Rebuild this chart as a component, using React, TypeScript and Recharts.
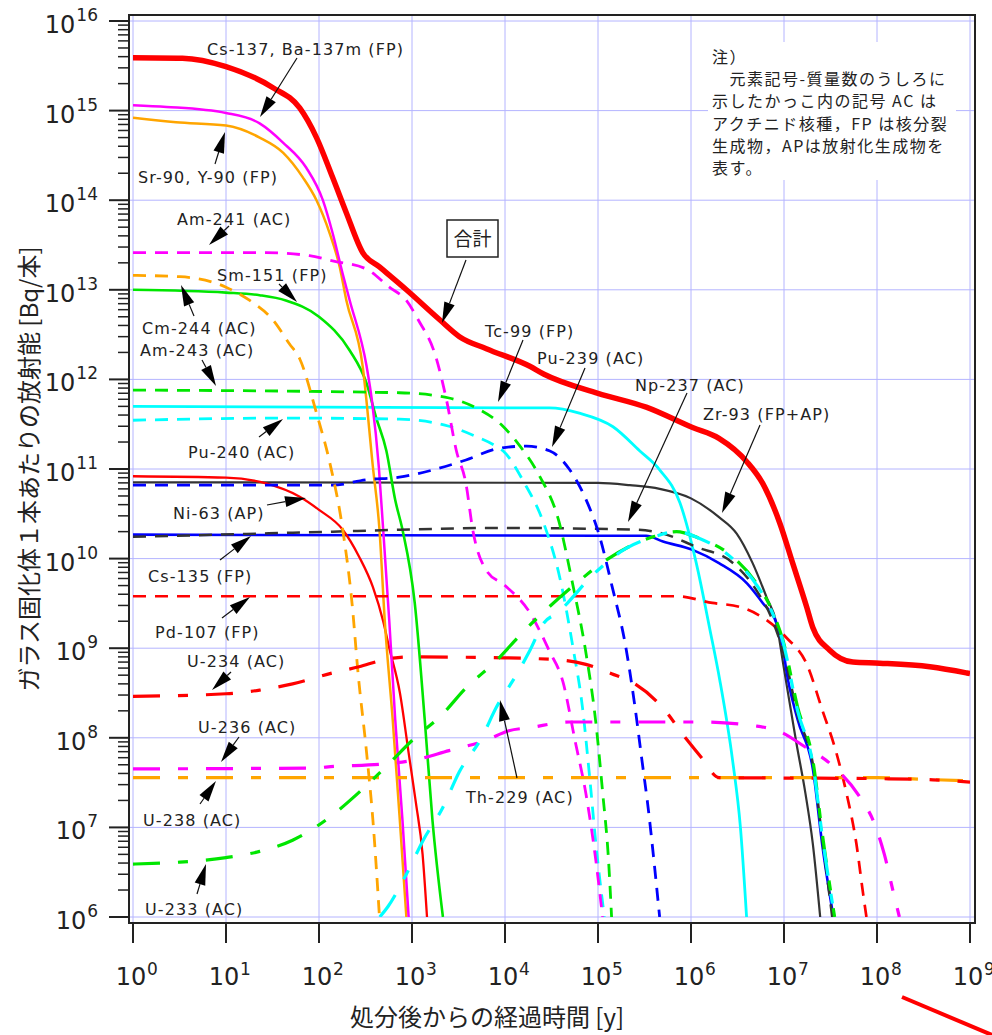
import { LineChart, Line, XAxis, YAxis, CartesianGrid } from "recharts";

type Pt = [number, number];

// [years after disposal, activity Bq per canister]
const total: Pt[] = [
  [1, 3.9e15], [3.4, 3.85e15], [10, 3.1e15], [32, 1.8e15], [62, 1.07e15], [94, 5e14],
  [140, 1.8e14], [197, 7.2e13], [295, 2.6e13], [447, 1.8e13], [870, 1e13], [2000, 4.6e12],
  [3240, 3e12], [6300, 2.2e12], [18500, 1.4e12], [26000, 1.15e12], [1e5, 7e11],
  [3.3e5, 4.9e11], [1.04e6, 2.9e11], [2e6, 2.2e11], [4e6, 1.2e11], [5.9e6, 6.9e10],
  [9e6, 2.5e10], [1.24e7, 8.9e9], [1.75e7, 2.9e9], [2.04e7, 1.7e9], [3.1e7, 9.5e8],
  [5.5e7, 7e8], [1.07e8, 6.8e8], [3.7e8, 6.2e8], [9.1e8, 5.3e8], [1e9, 5.2e8],
];
const cs137: Pt[] = [
  [1, 1.15e15], [2.3, 1.1e15], [10, 9.4e14], [23, 7.2e14], [41, 4.4e14], [73, 2.3e14],
  [110, 1e14], [140, 4.3e13], [180, 1.5e13], [214, 7.6e12], [325, 1.4e12], [370, 5.9e11],
  [440, 1.05e11], [490, 2.1e10], [570, 2e9], [660, 1.6e8], [790, 1.2e7], [920, 1e6],
];
const sr90: Pt[] = [
  [1, 8.3e14], [2.9, 7.4e14], [10, 6.8e14], [23, 5e14], [41, 3.4e14], [67, 1.8e14],
  [94, 1e14], [130, 4.3e13], [167, 1.8e13], [197, 7.6e12], [295, 1.4e12], [380, 1.05e11],
  [447, 2.1e10], [510, 2e9], [620, 1.6e8], [740, 1.2e7], [870, 1e6],
];
const am241: Pt[] = [
  [1, 2.6e13], [27, 2.6e13], [79, 2.4e13], [140, 2.1e13], [325, 1.7e13], [570, 1.07e13],
  [870, 7.6e12], [1170, 4.6e12], [1800, 1.8e12], [2350, 5.9e11], [3000, 1.6e11],
  [3800, 6.9e10], [4500, 2.1e10], [6300, 7.4e9], [10000, 5e9], [18000, 2.6e9],
  [30000, 9.3e8], [42000, 4.2e8], [57000, 9e7], [74000, 2.4e7], [95000, 4.2e6], [1.12e5, 1e6],
];
const cm244: Pt[] = [
  [1, 1.45e13], [3.2, 1.4e13], [10, 1.07e13], [18, 7.6e12], [32, 4.6e12], [48, 2.5e12],
  [62, 1.7e12], [94, 4.2e11], [130, 1.2e11], [180, 2.1e10], [230, 2.7e9], [260, 6e8],
  [325, 6.8e7], [380, 1.2e7], [447, 1e6],
];
const sm151: Pt[] = [
  [1, 1e13], [10, 9.3e12], [23, 8.7e12], [44, 7.6e12], [100, 5e12], [214, 2.1e12],
  [325, 9e11], [410, 3.8e11], [530, 1.6e11], [660, 4.5e10], [790, 2.1e10], [1070, 3.2e9],
  [1370, 1.6e8], [1660, 1.2e7], [2150, 1e6],
];
const am243: Pt[] = [
  [1, 7.6e11], [730, 7.1e11], [2500, 6.2e11], [4900, 4.8e11], [9500, 3e11], [14500, 1.8e11],
  [23000, 8.7e10], [38000, 2.6e10], [53000, 5.4e9], [74000, 9e8], [95000, 1.45e8],
  [1.12e5, 2.5e7], [1.3e5, 4.2e6], [1.4e5, 1e6],
];
const tc99: Pt[] = [
  [1, 5e11], [30000, 4.8e11], [63000, 4.2e11], [1.45e5, 2.96e11], [2.8e5, 1.6e11],
  [4.6e5, 9.8e10], [7.6e5, 4.2e10], [1.14e6, 8.9e9], [1.6e6, 1.6e9], [2.04e6, 4.4e8],
  [2.8e6, 5.6e7], [3.4e6, 1e7], [3.96e6, 1e6],
];
const pu240: Pt[] = [
  [1, 3.5e11], [41, 3.7e11], [730, 3.6e11], [2500, 3e11], [4900, 2.3e11], [8000, 1.8e11],
  [9500, 1.6e11], [16000, 7.1e10], [26000, 2.5e10], [39000, 6e9], [54000, 1e9],
  [68000, 2.2e8], [81000, 3.8e7], [95000, 6.5e6], [1.17e5, 1e6],
];
const pu239: Pt[] = [
  [1, 6.6e10], [140, 6.6e10], [325, 7.6e10], [730, 8.1e10], [1700, 9.8e10], [3800, 1.26e11],
  [8600, 1.7e11], [17000, 1.8e11], [30000, 1.6e11], [49000, 1e11], [74000, 4.6e10],
  [1.02e5, 1.9e10], [1.41e5, 5e9], [2e5, 1e9], [2.5e5, 2.2e8], [2.95e5, 5.9e7],
  [3.5e5, 1.5e7], [4e5, 4.2e6], [4.6e5, 1e6],
];
const ni63: Pt[] = [
  [1, 8.3e10], [10, 8e10], [27, 6.9e10], [62, 4.9e10], [100, 3.5e10], [180, 2.1e10],
  [270, 1.05e10], [380, 4.8e9], [490, 2e9], [570, 1e9], [740, 3.2e8], [920, 6.8e7],
  [1100, 1.9e7], [1300, 5e6], [1450, 1e6],
];
const zr93: Pt[] = [
  [1, 7.1e10], [1e5, 7e10], [2.2e5, 6.6e10], [4.6e5, 6e10], [1e6, 4.7e10], [2e6, 2.9e10],
  [3.1e6, 1.9e10], [4.6e6, 8.9e9], [6.5e6, 3.7e9], [8.3e6, 1.9e9], [9.8e6, 6.7e8],
  [1.36e7, 8.7e7], [1.7e7, 2.4e7], [2.04e7, 6.6e6], [2.45e7, 1e6],
];
const np237: Pt[] = [
  [1, 1.75e10], [140, 2e10], [730, 2.1e10], [8600, 2.2e10], [2.6e5, 2.1e10], [5e5, 1.9e10],
  [1.14e6, 1.35e10], [2.8e6, 9e9], [5e6, 4.5e9], [7.6e6, 2e9], [1.05e7, 7e8],
  [1.4e7, 1.8e8], [2.05e7, 5e7], [2.6e7, 7e6], [3.3e7, 1e6],
];
const cs135: Pt[] = [
  [1, 1.85e10], [1e5, 1.8e10], [3.3e5, 1.8e10], [5e5, 1.55e10], [1.04e6, 1.25e10],
  [2e6, 8.9e9], [4e6, 5.3e9], [5.9e6, 3.2e9], [8.3e6, 1.9e9], [9.8e6, 1e9], [1.05e7, 6e8],
  [1.4e7, 1.6e8], [2.05e7, 4.4e7], [2.6e7, 6e6], [3.4e7, 1e6],
];
const pd107: Pt[] = [
  [1, 3.8e9], [7e5, 3.8e9], [1.7e6, 3.2e9], [3.3e6, 2.9e9], [5.9e6, 2.2e9], [1.07e7, 1.3e9],
  [1.75e7, 6.7e8], [2.6e7, 2e8], [3.6e7, 7.2e7], [4.7e7, 2.4e7], [6e7, 6.6e6],
  [7.1e7, 1.8e6], [7.7e7, 1e6],
];
const u234: Pt[] = [
  [1, 2.9e8], [10, 3.1e8], [23, 3.4e8], [52, 4e8], [140, 5.3e8], [270, 6.2e8], [490, 7.4e8],
  [920, 8e8], [10000, 7.8e8], [39000, 7.4e8], [74000, 6.6e8], [1.4e5, 5.2e8],
  [2.3e5, 4.2e8], [4.9e5, 2.2e8], [8.7e5, 1e8], [1.3e6, 6e7], [2e6, 3.6e7], [1e8, 3.5e7],
  [4e8, 3.4e7], [1e9, 3.2e7],
];
const u236: Pt[] = [
  [1, 4.5e7], [79, 4.6e7], [150, 4.8e7], [490, 5.1e7], [1030, 5.6e7], [2500, 7.2e7],
  [6300, 9.4e7], [11000, 1.2e8], [18500, 1.3e8], [50000, 1.5e8], [1.2e6, 1.5e8],
  [5.1e6, 1.35e8], [9.4e6, 1.15e8], [1.66e7, 8e7], [3.1e7, 5.2e7], [6.5e7, 2.2e7],
  [9.4e7, 1.1e7], [1.2e8, 5e6], [1.48e8, 2e6], [1.74e8, 1e6],
];
const u238: Pt[] = [[1, 3.6e7], [1e8, 3.6e7], [3e8, 3.45e7], [1e9, 3.3e7]];
const u233: Pt[] = [
  [1, 3.9e6], [3.2, 4.1e6], [10, 4.6e6], [23, 5.4e6], [52, 7.2e6], [124, 1.25e7],
  [262, 2.4e7], [518, 4.7e7], [1020, 9.5e7], [2090, 1.8e8], [3800, 3.6e8], [7900, 7.1e8],
  [15000, 1.45e9], [61000, 5.5e9], [1.2e5, 9.5e9], [3.9e5, 1.75e10], [7e5, 2e10],
  [1.2e6, 1.7e10], [2.8e6, 1.05e10], [5e6, 5.4e9], [7.6e6, 2.5e9], [9.8e6, 1.2e9],
  [1.4e7, 2.2e8], [2.05e7, 5.5e7], [2.6e7, 8e6], [3.5e7, 1e6],
];
const th229: Pt[] = [
  [450, 1e6], [550, 1.3e6], [870, 3e6], [1320, 7.2e6], [2140, 1.66e7], [3240, 4.2e7],
  [5600, 1e8], [8100, 2.2e8], [13500, 5.2e8], [18200, 9.1e8], [26000, 1.9e9],
  [37000, 2.5e9], [91000, 6.8e9], [2e5, 1.3e10], [4e5, 1.75e10], [7e5, 2e10],
  [1.2e6, 1.7e10], [2.8e6, 1e10], [5e6, 5.2e9], [7.6e6, 2.4e9], [9.8e6, 1.15e9],
  [1.4e7, 2e8], [2.05e7, 5e7], [2.6e7, 7.5e6], [3.5e7, 1e6],
];

const xTicks = [1, 1e1, 1e2, 1e3, 1e4, 1e5, 1e6, 1e7, 1e8, 1e9];
const yTicks = [1e6, 1e7, 1e8, 1e9, 1e10, 1e11, 1e12, 1e13, 1e14, 1e15, 1e16];
const yMinorTicks = yTicks.slice(0, -1).flatMap((d) => [2, 3, 4, 5, 6, 7, 8, 9].map((k) => k * d));

const RED = "#ff0000";
const MAGENTA = "#ff00ff";
const ORANGE = "#ffa500";
const GREEN = "#00e600";
const CYAN = "#00ffff";
const BLUE = "#0000ff";
const DARK = "#333333";

const SHORT = "13 9";
const LONG = "27 18 10 18";

const series = [
  { id: "Zr-93", pts: zr93, color: DARK, width: 2.2 },
  { id: "Cs-135", pts: cs135, color: BLUE, width: 2.6 },
  { id: "Ni-63", pts: ni63, color: RED, width: 2.3 },
  { id: "Tc-99", pts: tc99, color: CYAN, width: 2.8 },
  { id: "Sm-151", pts: sm151, color: GREEN, width: 2.6 },
  { id: "Sr-90", pts: sr90, color: ORANGE, width: 2.5 },
  { id: "Cs-137", pts: cs137, color: MAGENTA, width: 2.5 },
  { id: "Pd-107", pts: pd107, color: RED, width: 2.7, dash: SHORT },
  { id: "Np-237", pts: np237, color: DARK, width: 2.5, dash: SHORT },
  { id: "Pu-239", pts: pu239, color: BLUE, width: 2.8, dash: SHORT },
  { id: "Pu-240", pts: pu240, color: CYAN, width: 2.8, dash: SHORT },
  { id: "Am-243", pts: am243, color: GREEN, width: 2.8, dash: SHORT },
  { id: "Cm-244", pts: cm244, color: ORANGE, width: 2.8, dash: SHORT },
  { id: "Am-241", pts: am241, color: MAGENTA, width: 2.8, dash: SHORT },
  { id: "U-238", pts: u238, color: ORANGE, width: 3.2, dash: LONG },
  { id: "U-234", pts: u234, color: RED, width: 3.2, dash: LONG },
  { id: "U-236", pts: u236, color: MAGENTA, width: 3.2, dash: LONG },
  { id: "U-233", pts: u233, color: GREEN, width: 3.2, dash: LONG },
  { id: "Th-229", pts: th229, color: CYAN, width: 3.2, dash: LONG },
  { id: "total", pts: total, color: RED, width: 5.5 },
];

const rows = (pts: Pt[]) => pts.map(([t, a]) => ({ t, a }));

// layout of the plot box
const W = 992;
const H = 1035;
const BOX = { left: 129, top: 15, right: 975, bottom: 923 };
const YPAD = 6;
const XPAD = { left: 4, right: 5 };

const FONT = "'DejaVu Sans', Verdana, sans-serif";
const JP = "'Noto Sans CJK JP', sans-serif";
const INK = "#222";

function XTick(props: any) {
  const { x, y, payload } = props;
  const p = Math.round(Math.log10(payload.value));
  return (
    <g fill={INK} fontFamily={FONT}>
      <text x={x - 2} y={y + 42} textAnchor="middle" fontSize={24}>10</text>
      <text x={x + 14} y={y + 32} fontSize={17}>{p}</text>
    </g>
  );
}

function YTick(props: any) {
  const { x, y, payload } = props;
  const p = String(Math.round(Math.log10(payload.value)));
  const right = x - 11;
  const supW = p.length * 10.8;
  return (
    <g fill={INK} fontFamily={FONT}>
      <text x={right - supW - 1} y={y + 12} textAnchor="end" fontSize={24}>10</text>
      <text x={right} y={y} textAnchor="end" fontSize={17}>{p}</text>
    </g>
  );
}

// minor y tick marks, placed on the same log mapping as the y axis
function minorTickY(v: number) {
  const top = BOX.top + YPAD;
  const bottom = BOX.bottom - YPAD;
  const [lo, hi] = [Math.log10(yTicks[0]), Math.log10(yTicks[yTicks.length - 1])];
  return top + ((hi - Math.log10(v)) / (hi - lo)) * (bottom - top);
}

// label text (left x, middle y) and arrow (from x,y to tip x,y), page pixels
const labels: { text: string; x: number; y: number; arrow: number[] }[] = [
  { text: "Cs-137, Ba-137m (FP)", x: 207, y: 49, arrow: [297, 58, 260, 117] },
  { text: "Sr-90, Y-90 (FP)", x: 138, y: 177, arrow: [215, 164, 225, 132] },
  { text: "Am-241 (AC)", x: 177, y: 219, arrow: [229, 226, 209, 245] },
  { text: "Sm-151 (FP)", x: 217, y: 275, arrow: [279, 284, 297, 302] },
  { text: "Cm-244 (AC)", x: 142, y: 328, arrow: [194, 316, 181, 285] },
  { text: "Am-243 (AC)", x: 140, y: 350, arrow: [202, 360, 216, 386] },
  { text: "Tc-99 (FP)", x: 485, y: 331, arrow: [523, 340, 498, 402] },
  { text: "Pu-239 (AC)", x: 537, y: 358, arrow: [585, 368, 552, 447] },
  { text: "Np-237 (AC)", x: 635, y: 385, arrow: [687, 393, 628, 522] },
  { text: "Zr-93 (FP+AP)", x: 703, y: 414, arrow: [760, 425, 722, 513] },
  { text: "Pu-240 (AC)", x: 188, y: 452, arrow: [259, 437, 283, 419] },
  { text: "Ni-63 (AP)", x: 173, y: 513, arrow: [267, 505, 306, 498] },
  { text: "Cs-135 (FP)", x: 148, y: 576, arrow: [220, 560, 251, 536] },
  { text: "Pd-107 (FP)", x: 155, y: 632, arrow: [222, 618, 250, 597] },
  { text: "U-234 (AC)", x: 187, y: 661, arrow: [231, 672, 212, 690] },
  { text: "U-236 (AC)", x: 198, y: 727, arrow: [239, 737, 221, 762] },
  { text: "U-238 (AC)", x: 143, y: 820, arrow: [200, 804, 216, 781] },
  { text: "U-233 (AC)", x: 145, y: 909, arrow: [197, 894, 206, 864] },
  { text: "Th-229 (AC)", x: 466, y: 797, arrow: [517, 778, 500, 700] },
];

const noteLines = [
  "注）",
  "　元素記号-質量数のうしろに",
  "示したかっこ内の記号 AC は",
  "アクチニド核種，FP は核分裂",
  "生成物，APは放射化生成物を",
  "表す。",
];

function Arrow({ a }: { a: number[] }) {
  const [x1, y1, x2, y2] = a;
  const dx = x2 - x1;
  const dy = y2 - y1;
  const len = Math.hypot(dx, dy);
  const ux = dx / len;
  const uy = dy / len;
  const hl = Math.min(21, len * 0.85);
  const hw = 5.5;
  const bx = x2 - ux * hl;
  const by = y2 - uy * hl;
  const pts = `${x2},${y2} ${bx - uy * hw},${by + ux * hw} ${bx + uy * hw},${by - ux * hw}`;
  return (
    <g>
      <line x1={x1} y1={y1} x2={bx} y2={by} stroke="#111" strokeWidth={1.2} />
      <polygon points={pts} fill="#000" />
    </g>
  );
}

function Overlay() {
  return (
    <svg width={W} height={H} style={{ position: "absolute", left: 0, top: 0, pointerEvents: "none" }}>
      <rect
        x={BOX.left}
        y={BOX.top}
        width={BOX.right - BOX.left}
        height={BOX.bottom - BOX.top}
        fill="none"
        stroke={INK}
        strokeWidth={2}
      />
      {yMinorTicks.map((v) => {
        const y = minorTickY(v);
        return <line key={v} x1={BOX.left - 11} x2={BOX.left} y1={y} y2={y} stroke={INK} strokeWidth={1.5} />;
      })}
      <rect x={708} y={42} width={248} height={138} fill="#fff" />
      <g fontFamily={JP} fontSize={16} fill={INK} letterSpacing={1.5}>
        {noteLines.map((l, i) => (
          <text key={i} x={712} y={63 + i * 22.2} xmlSpace="preserve">{l}</text>
        ))}
      </g>
      <g fontFamily={FONT} fontSize={16} fill={INK} letterSpacing={1.1}>
        {labels.map((l) => (
          <text key={l.text} x={l.x} y={l.y + 6}>{l.text}</text>
        ))}
      </g>
      {labels.map((l) => (
        <Arrow key={l.text} a={l.arrow} />
      ))}
      <rect x={447} y={220} width={51} height={37} fill="#fff" stroke={INK} strokeWidth={1.5} />
      <text x={472.5} y={246} textAnchor="middle" fontFamily={JP} fontSize={19} fill={INK}>合計</text>
      <Arrow a={[466, 260, 442, 323]} />
      <text
        x={27}
        y={469}
        transform="rotate(-90 27 469)"
        textAnchor="middle"
        dominantBaseline="central"
        fontFamily={JP}
        fontSize={24}
        fill={INK}
      >
        ガラス固化体１本あたりの放射能 [Bq/本]
      </text>
      <text x={487} y={1026} textAnchor="middle" fontFamily={JP} fontSize={24} fill={INK}>
        処分後からの経過時間 [y]
      </text>
      <line x1={902} y1={997} x2={992} y2={1035} stroke={RED} strokeWidth={4} />
    </svg>
  );
}

export default function App() {
  return (
    <div style={{ position: "absolute", left: 0, top: 0, width: W, height: H, background: "#fff" }}>
      <LineChart
        width={W}
        height={H}
        margin={{ top: BOX.top, right: W - BOX.right, bottom: H - BOX.bottom - 1, left: BOX.left - 1 }}
      >
        <CartesianGrid stroke="#b4b4ff" strokeWidth={1} />
        <XAxis
          type="number"
          dataKey="t"
          scale="log"
          domain={[1, 1e9]}
          allowDataOverflow
          ticks={xTicks}
          interval={0}
          height={1}
          padding={XPAD}
          tickSize={20}
          tickMargin={0}
          tick={<XTick />}
          axisLine={{ stroke: INK, strokeWidth: 2 }}
          tickLine={{ stroke: INK, strokeWidth: 2 }}
        />
        <YAxis
          type="number"
          scale="log"
          domain={[1e6, 1e16]}
          allowDataOverflow
          ticks={yTicks}
          interval={0}
          width={1}
          padding={{ top: YPAD, bottom: YPAD }}
          tickSize={20}
          tickMargin={0}
          tick={<YTick />}
          axisLine={{ stroke: INK, strokeWidth: 2 }}
          tickLine={{ stroke: INK, strokeWidth: 2 }}
        />
        {series.map((s) => (
          <Line
            key={s.id}
            data={rows(s.pts)}
            dataKey="a"
            type="monotone"
            stroke={s.color}
            strokeWidth={s.width}
            strokeDasharray={s.dash}
            dot={false}
            activeDot={false}
            isAnimationActive={false}
          />
        ))}
      </LineChart>
      <Overlay />
    </div>
  );
}
